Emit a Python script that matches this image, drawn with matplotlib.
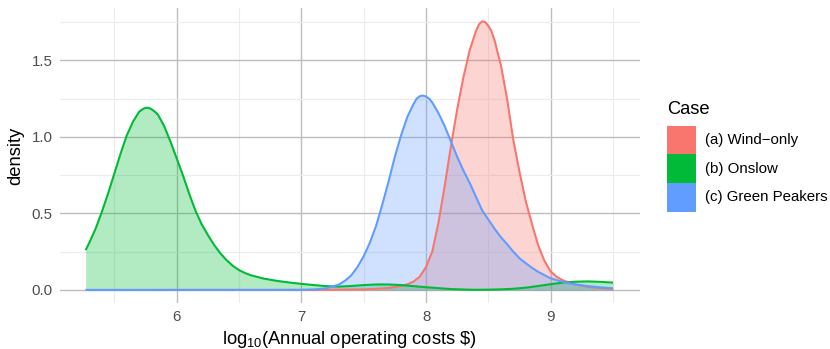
import numpy as np
import matplotlib
matplotlib.use("Agg")
import matplotlib.pyplot as plt
from matplotlib.patches import Rectangle

plt.rcParams.update({
    "font.family": ["Liberation Sans", "DejaVu Sans"],
    "mathtext.fontset": "custom",
    "mathtext.rm": "Liberation Sans",
    "mathtext.default": "regular",
})

# density curves (x = log10 cost, y = density)
wind_x = [5.27, 7.00, 7.20, 7.40, 7.50, 7.60, 7.70, 7.80, 7.85, 7.90, 7.95, 8.00, 8.05,
          8.10, 8.15, 8.20, 8.25, 8.30, 8.35, 8.40, 8.425, 8.45, 8.475, 8.50, 8.525, 8.55,
          8.60, 8.65, 8.70, 8.75, 8.80, 8.85, 8.90, 8.95, 9.00, 9.05, 9.10, 9.20, 9.30,
          9.40, 9.50]
wind_y = [0.0, 0.0, 0.001, 0.003, 0.004, 0.007, 0.013, 0.026, 0.037, 0.055, 0.087, 0.15, 0.25,
          0.44, 0.68, 0.94, 1.18, 1.39, 1.565, 1.69, 1.735, 1.755, 1.75, 1.725, 1.69, 1.63,
          1.47, 1.25, 0.98, 0.77, 0.58, 0.43, 0.29, 0.19, 0.12, 0.085, 0.062, 0.035, 0.02,
          0.012, 0.007]

onslow_x = [5.27, 5.30, 5.35, 5.40, 5.45, 5.50, 5.55, 5.60, 5.65, 5.70, 5.725, 5.75, 5.775,
            5.80, 5.825, 5.85, 5.90, 5.95, 6.00, 6.05, 6.10, 6.15, 6.20, 6.25, 6.30, 6.35,
            6.40, 6.45, 6.50, 6.55, 6.60, 6.70, 6.80, 6.90, 7.00, 7.10, 7.20, 7.30, 7.40,
            7.50, 7.60, 7.70, 7.80, 7.90, 8.00, 8.10, 8.20, 8.30, 8.40, 8.50, 8.60, 8.70,
            8.80, 8.90, 9.00, 9.10, 9.20, 9.30, 9.40, 9.50]
onslow_y = [0.26, 0.31, 0.40, 0.51, 0.63, 0.76, 0.89, 1.01, 1.10, 1.165, 1.18, 1.19, 1.19,
            1.18, 1.165, 1.145, 1.07, 0.97, 0.86, 0.75, 0.63, 0.52, 0.43, 0.36, 0.295, 0.24,
            0.195, 0.158, 0.13, 0.11, 0.095, 0.074, 0.060, 0.049, 0.040, 0.032, 0.025, 0.022, 0.026,
            0.032, 0.036, 0.036, 0.032, 0.025, 0.018, 0.012, 0.006, 0.003, 0.001, 0.002, 0.004, 0.008,
            0.015, 0.026, 0.038, 0.048, 0.054, 0.056, 0.053, 0.048]

peakers_x = [5.27, 7.00, 7.10, 7.20, 7.30, 7.35, 7.40, 7.45, 7.50, 7.55, 7.60, 7.65, 7.70,
             7.75, 7.80, 7.85, 7.90, 7.925, 7.95, 7.975, 8.00, 8.025, 8.05, 8.075, 8.10, 8.15,
             8.20, 8.25, 8.30, 8.35, 8.40, 8.45, 8.50, 8.55, 8.60, 8.65, 8.70, 8.75, 8.80,
             8.85, 8.90, 9.00, 9.10, 9.20, 9.30, 9.40, 9.50]
peakers_y = [0.0, 0.001, 0.003, 0.011, 0.035, 0.06, 0.095, 0.15, 0.22, 0.31, 0.42, 0.56, 0.71,
             0.87, 1.01, 1.13, 1.215, 1.25, 1.266, 1.27, 1.264, 1.25, 1.225, 1.19, 1.155, 1.07,
             0.97, 0.87, 0.78, 0.70, 0.61, 0.52, 0.46, 0.40, 0.345, 0.30, 0.25, 0.207, 0.175,
             0.145, 0.118, 0.076, 0.052, 0.036, 0.025, 0.017, 0.011]

cases = ["(a) Wind\u2212only", "(b) Onslow", "(c) Green Peakers"]
colors = ["#F8766D", "#00BA38", "#619CFF"]
series = [(wind_x, wind_y), (onslow_x, onslow_y), (peakers_x, peakers_y)]

W, H = 830, 349
fig = plt.figure(figsize=(W / 100, H / 100), dpi=100)
ax = fig.add_axes([59.7 / W, 1 - 303.4 / H, (639.6 - 59.7) / W, (303.4 - 8) / H])

for (xs, ys), c in zip(series, colors):
    ax.fill_between(xs, 0, ys, color=c, alpha=0.3, lw=0, zorder=2)
    ax.plot(xs, ys, color=c, lw=1.5, zorder=3, solid_capstyle="butt", solid_joinstyle="round")

ax.set_xlim(5.062, 9.713)
ax.set_ylim(-0.0877, 1.842)
ax.set_xticks([6, 7, 8, 9])
ax.set_xticks([5.5, 6.5, 7.5, 8.5, 9.5], minor=True)
ax.set_yticks([0, 0.5, 1.0, 1.5])
ax.set_yticklabels(["0.0", "0.5", "1.0", "1.5"])
ax.set_yticks([0.25, 0.75, 1.25, 1.75], minor=True)
ax.grid(which="major", color="#bdbdbd", lw=1.0, zorder=0)
ax.grid(which="minor", color="#ececec", lw=0.8, zorder=0)
ax.set_axisbelow(True)
for s in ax.spines.values():
    s.set_visible(False)
ax.tick_params(which="both", length=0, labelsize=10.8, labelcolor="#4d4d4d", pad=5.0)

fig.text(349.6 / W, 1 - 344.5 / H, r"$log_{10}$(Annual operating costs \$)",
         ha="center", va="baseline", fontsize=13.2)
fig.text(15.8 / W, 1 - 155.7 / H, "density", rotation=90, ha="center", va="center",
         fontsize=13.2)

# legend
fig.text(667.3 / W, 1 - 114.3 / H, "Case", ha="left", va="baseline", fontsize=13.2)
key_top = 125.7
key = 28.7
for i, (lab, c) in enumerate(zip(cases, colors)):
    top = key_top + i * key
    fig.add_artist(Rectangle((667.3 / W, 1 - (top + key) / H), key / W, key / H,
                             transform=fig.transFigure, color=c, lw=0))
    fig.text(705 / W, 1 - (top + key / 2) / H, lab, ha="left", va="center", fontsize=10.8)

fig.savefig("out.png", dpi=100, facecolor="white")
